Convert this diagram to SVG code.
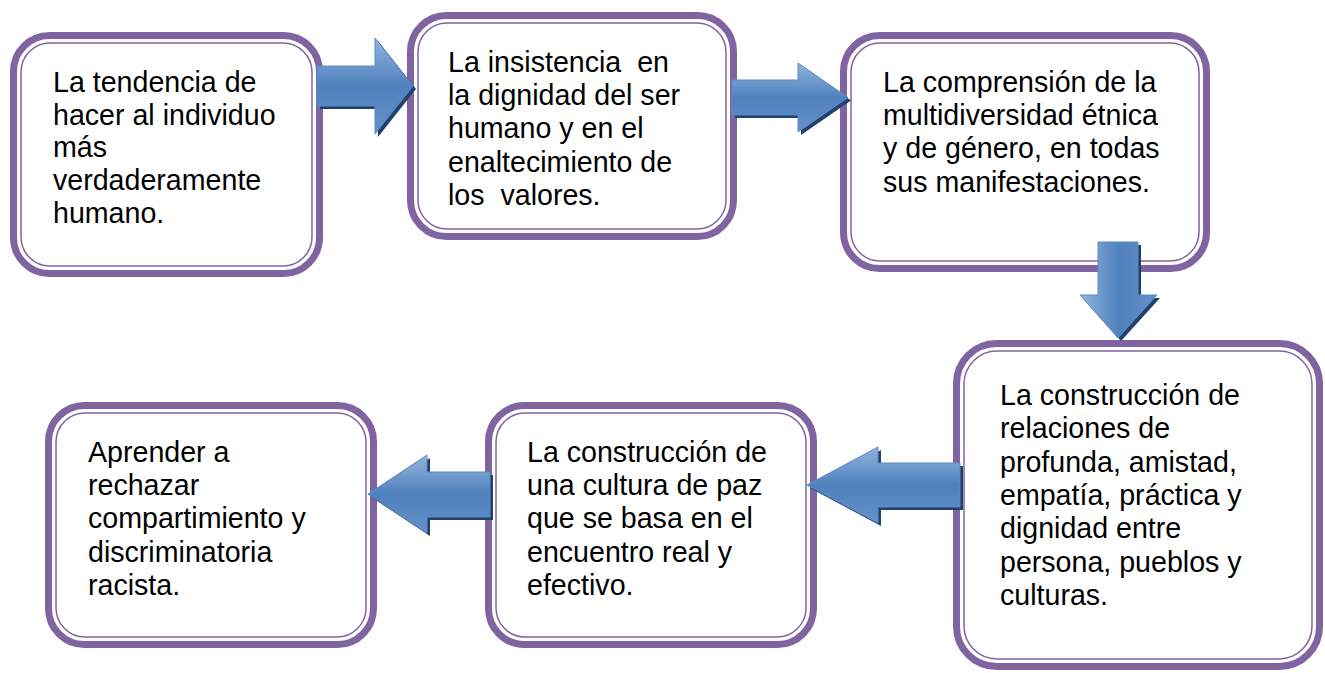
<svg xmlns="http://www.w3.org/2000/svg" width="1325" height="673" viewBox="0 0 1325 673">
  <style>
    .outer { fill: #ffffff; stroke: #8064A2; stroke-width: 7; }
    .inner { fill: none; stroke: #8064A2; stroke-width: 1.5; }
    .t { font-family: "Liberation Sans", Arial, sans-serif; font-size: 28.6px; fill: #000000; white-space: pre; }
    .arrow { stroke: #5A8AC6; stroke-width: 1; stroke-linejoin: miter; }
    .shadow { fill: #22406A; }
  </style>
  <defs>
    <linearGradient id="gh" x1="0" y1="0" x2="0" y2="1">
      <stop offset="0" stop-color="#93B4DE"/>
      <stop offset="0.5" stop-color="#4F81BD"/>
      <stop offset="1" stop-color="#6591C9"/>
    </linearGradient>
    <linearGradient id="gv" x1="0" y1="0" x2="1" y2="0">
      <stop offset="0" stop-color="#93B4DE"/>
      <stop offset="0.5" stop-color="#4F81BD"/>
      <stop offset="1" stop-color="#6591C9"/>
    </linearGradient>
  </defs>

  <g id="node1">
    <rect class="outer" x="13.5" y="35.5" width="306" height="238" rx="36"/>
    <rect class="inner" x="21" y="43" width="291" height="223" rx="29"/>
    <text class="t" x="53" y="92">La tendencia de</text>
    <text class="t" x="53" y="125">hacer al individuo</text>
    <text class="t" x="53" y="157">más</text>
    <text class="t" x="53" y="190">verdaderamente</text>
    <text class="t" x="53" y="223">humano.</text>
  </g>

  <g id="node2">
    <rect class="outer" x="410.5" y="15.5" width="323" height="221" rx="36"/>
    <rect class="inner" x="418" y="23" width="308" height="206" rx="29"/>
    <text class="t" x="448" y="72">La insistencia  en</text>
    <text class="t" x="448" y="105">la dignidad del ser</text>
    <text class="t" x="448" y="138">humano y en el</text>
    <text class="t" x="448" y="172">enaltecimiento de</text>
    <text class="t" x="448" y="205">los  valores.</text>
  </g>

  <g id="node3">
    <rect class="outer" x="843.5" y="35.5" width="363" height="233" rx="36"/>
    <rect class="inner" x="851" y="43" width="348" height="218" rx="29"/>
    <text class="t" x="883" y="92">La comprensión de la</text>
    <text class="t" x="883" y="125">multidiversidad étnica</text>
    <text class="t" x="883" y="158">y de género, en todas</text>
    <text class="t" x="883" y="192">sus manifestaciones.</text>
  </g>

  <g id="node4">
    <rect class="outer" x="956.5" y="343.5" width="363" height="323" rx="40"/>
    <rect class="inner" x="964" y="351" width="348" height="308" rx="33"/>
    <text class="t" x="1000" y="405">La construcción de</text>
    <text class="t" x="1000" y="438">relaciones de</text>
    <text class="t" x="1000" y="472">profunda, amistad,</text>
    <text class="t" x="1000" y="505">empatía, práctica y</text>
    <text class="t" x="1000" y="538">dignidad entre</text>
    <text class="t" x="1000" y="572">persona, pueblos y</text>
    <text class="t" x="1000" y="605">culturas.</text>
  </g>

  <g id="node5">
    <rect class="outer" x="488.5" y="405.5" width="325" height="239" rx="36"/>
    <rect class="inner" x="496" y="413" width="310" height="224" rx="29"/>
    <text class="t" x="527" y="462">La construcción de</text>
    <text class="t" x="527" y="495">una cultura de paz</text>
    <text class="t" x="527" y="528">que se basa en el</text>
    <text class="t" x="527" y="562">encuentro real y</text>
    <text class="t" x="527" y="595">efectivo.</text>
  </g>

  <g id="node6">
    <rect class="outer" x="48.5" y="405.5" width="325" height="239" rx="36"/>
    <rect class="inner" x="56" y="413" width="310" height="224" rx="29"/>
    <text class="t" x="88" y="462">Aprender a</text>
    <text class="t" x="88" y="495">rechazar</text>
    <text class="t" x="88" y="528">compartimiento y</text>
    <text class="t" x="88" y="562">discriminatoria</text>
    <text class="t" x="88" y="595">racista.</text>
  </g>

  <g id="connectors">
    <g id="arrow1">
      <polygon class="shadow" transform="translate(3,3)" points="317,66 375,66 375,38 413,86 375,134 375,106 317,106"/>
      <polygon class="arrow" fill="url(#gh)" points="317,66 375,66 375,38 413,86 375,134 375,106 317,106"/>
    </g>
    <g id="arrow2">
      <polygon class="shadow" transform="translate(3,3)" points="732,80 798,80 798,63 848,97.5 798,132 798,115 732,115"/>
      <polygon class="arrow" fill="url(#gh)" points="732,80 798,80 798,63 848,97.5 798,132 798,115 732,115"/>
    </g>
    <g id="arrow3">
      <polygon class="shadow" transform="translate(3,3)" points="1098,242 1138,242 1138,295 1157,295 1118,338 1080,295 1098,295"/>
      <polygon class="arrow" fill="url(#gv)" points="1098,242 1138,242 1138,295 1157,295 1118,338 1080,295 1098,295"/>
    </g>
    <g id="arrow4">
      <polygon class="shadow" transform="translate(3,3)" points="960,463 878,463 878,447 807,485 878,523 878,507 960,507"/>
      <polygon class="arrow" fill="url(#gh)" points="960,463 878,463 878,447 807,485 878,523 878,507 960,507"/>
    </g>
    <g id="arrow5">
      <polygon class="shadow" transform="translate(3,3)" points="490,472 427,472 427,455 368,494 427,533 427,517 490,517"/>
      <polygon class="arrow" fill="url(#gh)" points="490,472 427,472 427,455 368,494 427,533 427,517 490,517"/>
    </g>
  </g>
</svg>
